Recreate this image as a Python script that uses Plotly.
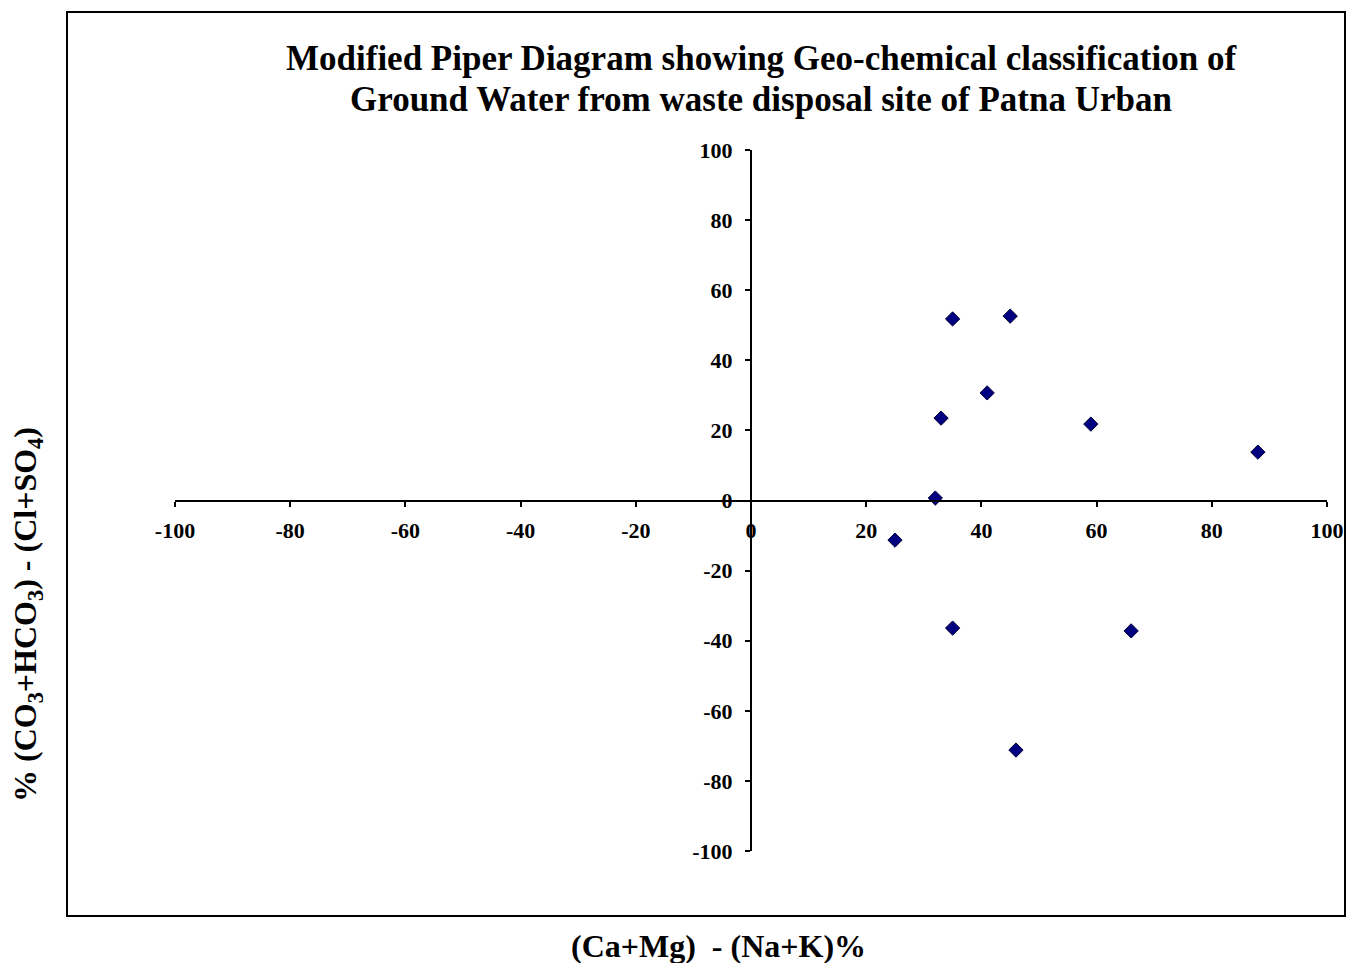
import plotly.graph_objects as go

# Data
cation_diff = [35, 45, 41, 33, 59, 88, 32, 25, 35, 66, 46]
anion_diff = [51.8, 52.6, 30.7, 23.5, 21.8, 13.8, 0.7, -11.3, -36.4, -37.2, -71.2]

tick_vals = [-100, -80, -60, -40, -20, 0, 20, 40, 60, 80, 100]
tick_text = [str(v) for v in tick_vals]

title_lines = ["Modified Piper Diagram showing Geo-chemical classification of",
               "Ground Water from waste disposal site of Patna Urban"]
x_title = "(Ca+Mg)  - (Na+K)%"
y_title = "% (CO<sub>3</sub>+HCO<sub>3</sub>) - (Cl+SO<sub>4</sub>)"

FONT = "Liberation Serif, Times New Roman, serif"

fig = go.Figure()
fig.add_trace(go.Scatter(
    x=cation_diff, y=anion_diff, mode="markers",
    marker=dict(symbol="diamond", size=11, color="#000080",
                line=dict(color="#000033", width=1)),
    showlegend=False, cliponaxis=False,
))

L, R, T, B = 175, 19, 150, 112
W, H = 1346, 963
pw, ph = W - L - R, H - T - B

def px(xp):
    return (xp - L) / pw

def py(yp):
    return (H - B - yp) / ph

axis_common = dict(
    range=[-100, 100], tickvals=tick_vals, ticktext=tick_text,
    showgrid=False, zeroline=False, showline=True, linecolor="black", linewidth=2,
    ticks="outside", ticklen=5, tickwidth=2, tickcolor="black",
    tickfont=dict(family=FONT, size=22, color="black", weight="bold"),
    anchor="free", position=0.5, fixedrange=True, automargin=False,
)

title_y = [58, 100]
annotations = [
    dict(text="<b>" + line + "</b>",
         xref="paper", yref="paper", x=px(761), y=py(yc),
         xanchor="center", yanchor="middle", showarrow=False,
         font=dict(family=FONT, size=35, color="black"))
    for line, yc in zip(title_lines, title_y)
]
annotations += [
    dict(text="<b>" + x_title + "</b>",
         xref="paper", yref="paper", x=px(718), y=py(946),
         xanchor="center", yanchor="middle", showarrow=False,
         font=dict(family=FONT, size=32, color="black")),
    dict(text="<b>" + y_title + "</b>",
         xref="paper", yref="paper", x=px(27), y=py(615),
         xanchor="center", yanchor="middle", showarrow=False, textangle=-90,
         font=dict(family=FONT, size=32, color="black")),
]

fig.update_layout(
    width=W, height=H,
    margin=dict(l=L, r=R, t=T, b=B, pad=0, autoexpand=False),
    paper_bgcolor="white", plot_bgcolor="white",
    xaxis=dict(**axis_common, ticklabelstandoff=5),
    yaxis=dict(**axis_common, ticklabelstandoff=8),
    font=dict(family=FONT, color="black"),
    shapes=[dict(type="rect", xref="paper", yref="paper",
                 x0=px(67), x1=px(1345), y0=py(916), y1=py(12),
                 line=dict(color="black", width=2), layer="below")],
    annotations=annotations,
)

fig.write_html("out.html", config={"displayModeBar": False},
               post_script="document.body.style.margin='0';document.body.style.overflow='hidden';")
